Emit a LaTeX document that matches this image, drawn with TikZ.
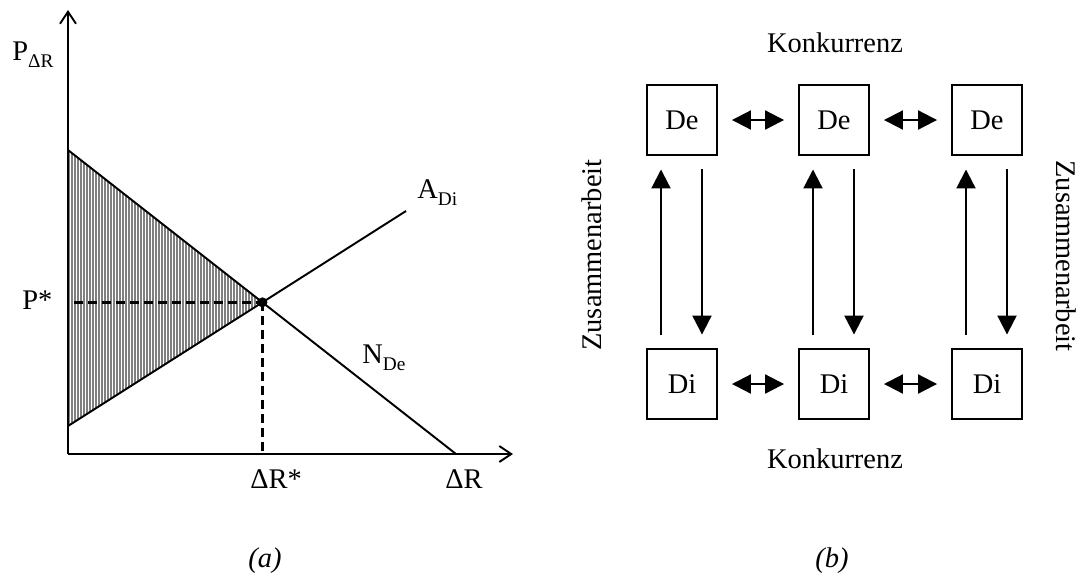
\documentclass[tikz,border=0pt]{standalone}
\usepackage{fontspec}
\setmainfont{Liberation Serif}
\usetikzlibrary{arrows.meta}
\def\lowlbl#1{\raisebox{-0.14cm}{\fontsize{11}{13}\selectfont #1}}

\begin{document}
\begin{tikzpicture}[x=0.02cm, y=-0.02cm, font=\fontsize{16.2}{19}\selectfont,
	axis/.style={line width=1.1pt, -{Straight Barb[length=0.24cm, width=0.32cm]}},
	curve/.style={line width=1.1pt},
	guide/.style={line width=1.5pt, dash pattern=on 0.18cm off 0.1cm},
	hatch/.style={line width=0.7pt, color=black!50},
	lbl/.style={anchor=base west, inner sep=0pt},
	box/.style={draw, line width=1.1pt, minimum size=1.4cm, inner sep=0pt},
	link/.style={line width=1.2pt, {Triangle[length=0.38cm, width=0.38cm]}-{Triangle[length=0.38cm, width=0.38cm]}, shorten <=0.28cm, shorten >=0.28cm},
	flow/.style={line width=1.2pt, -{Triangle[length=0.38cm, width=0.38cm]}, shorten <=0.27cm, shorten >=0.27cm}]
			%%%%% START %%%%%
			\useasboundingbox (0, 0) rectangle (1078, 576);
			
			%%%%% (a) market %%%%%
			\coordinate (orig) at (68, 454);
			\coordinate (ytip) at (68, 10);
			\coordinate (xtip) at (513, 454);
			\coordinate (ntop) at (68, 150);
			\coordinate (nend) at (456, 454);
			\coordinate (abot) at (68, 426);
			\coordinate (aend) at (406, 211);
			\coordinate (eq) at (intersection of ntop--nend and abot--aend);
			
			\begin{scope}
				\clip (ntop) -- (eq) -- (abot) -- cycle;
				\foreach \x in {69, 72, ..., 264}
					\draw[hatch] (\x, 140) -- (\x, 440);
			\end{scope}
			
			\draw[curve] (ntop) -- (nend);
			\draw[curve] (abot) -- (aend);
			
			\draw[guide] ([xshift=0.12cm]orig |- eq) -- (eq);
			\draw[guide] (eq) -- (eq |- orig);
			\fill (eq) circle (0.1cm);
			
			\draw[axis] (orig) -- (ytip);
			\draw[axis] (orig) -- (xtip);
			
			\node[lbl] (pdr) at (12, 60) {P\lowlbl{ΔR}};
			\node[lbl] (pstar) at (22, 309) {P*};
			\node[lbl] (drstar) at (250, 488) {ΔR*};
			\node[lbl] (dr) at (445, 488) {ΔR};
			\node[lbl] (adi) at (417, 198) {A\lowlbl{Di}};
			\node[lbl] (nde) at (362, 363) {N\lowlbl{De}};
			\node[lbl] (capa) at (248, 567) {\itshape (a)};
			
			%%%%% (b) actors %%%%%
			\node[box] (de1) at (682, 120) {De};
			\node[box] (de2) at (834, 120) {De};
			\node[box] (de3) at (987, 120) {De};
			\node[box] (di1) at (682, 384) {Di};
			\node[box] (di2) at (834, 384) {Di};
			\node[box] (di3) at (987, 384) {Di};
			
			\draw[link] (de1) -- (de2);
			\draw[link] (de2) -- (de3);
			\draw[link] (di1) -- (di2);
			\draw[link] (di2) -- (di3);
			
			\foreach \i in {1, 2, 3} {
				\draw[flow] ([xshift=-0.42cm]di\i.north) -- ([xshift=-0.42cm]de\i.south);
				\draw[flow] ([xshift=0.4cm]de\i.south) -- ([xshift=0.4cm]di\i.north);
			}
			
			\node (ktop) at (835, 43) {Konkurrenz};
			\node (kbot) at (835, 459) {Konkurrenz};
			\node[rotate=90] (zleft) at (592, 255) {Zusammenarbeit};
			\node[rotate=-90] (zright) at (1066, 256) {Zusammenarbeit};
			\node[lbl] (capb) at (815, 567) {\itshape (b)};
			
			%%%%% END %%%%%
\end{tikzpicture}
\end{document}
